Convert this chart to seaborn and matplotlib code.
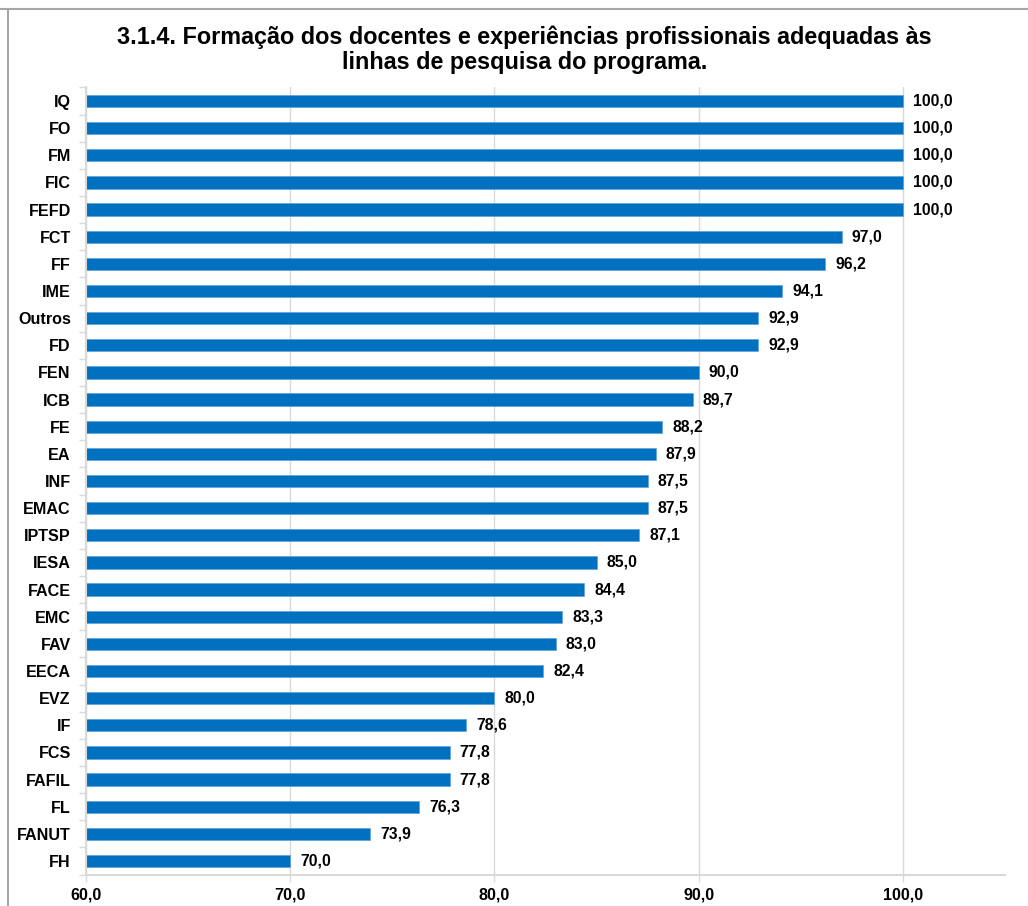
import matplotlib
matplotlib.use("Agg")
import matplotlib.pyplot as plt
from matplotlib.lines import Line2D
from matplotlib.ticker import FixedLocator
import seaborn as sns
import pandas as pd

categories = ["IQ", "FO", "FM", "FIC", "FEFD", "FCT", "FF", "IME", "Outros", "FD",
              "FEN", "ICB", "FE", "EA", "INF", "EMAC", "IPTSP", "IESA", "FACE", "EMC",
              "FAV", "EECA", "EVZ", "IF", "FCS", "FAFIL", "FL", "FANUT", "FH"]
values = [100.0, 100.0, 100.0, 100.0, 100.0, 97.0, 96.2, 94.1, 92.9, 92.9,
          90.0, 89.7, 88.2, 87.9, 87.5, 87.5, 87.1, 85.0, 84.4, 83.3,
          83.0, 82.4, 80.0, 78.6, 77.8, 77.8, 76.3, 73.9, 70.0]
x_ticks = [60, 70, 80, 90, 100]
title = "3.1.4. Formação dos docentes e experiências profissionais adequadas às\nlinhas de pesquisa do programa."

df = pd.DataFrame({"unidade": categories, "valor": values})

sns.set_theme(style="white")
plt.rcParams["font.family"] = ["Liberation Sans", "DejaVu Sans"]

fig = plt.figure(figsize=(10.28, 9.06), dpi=100)
ax = fig.add_axes([0.0837, 0.0347, 0.8939, 0.8688])

sns.barplot(data=df, x="valor", y="unidade", orient="h", color="#0070C0",
            saturation=1, width=0.45, ax=ax, edgecolor="#5B9BD5", linewidth=0.4)

ax.set_xlim(60, 105)
ax.set_ylim(len(categories) - 0.5, -0.5)
ax.set_xticks(x_ticks)
ax.set_xticklabels([f"{t:.1f}".replace(".", ",") for t in x_ticks],
                   fontsize=11.6, fontweight="bold", color="#000000")
ax.set_yticks(range(len(categories)))
ax.set_yticklabels(categories, fontsize=11.6, fontweight="bold", color="#000000")
ax.set_xlabel("")
ax.set_ylabel("")

# vertical gridlines
ax.grid(axis="x", color="#D9D9D9", linewidth=1)
ax.set_axisbelow(True)

# category separators on the left axis
ax.yaxis.set_minor_locator(FixedLocator([i - 0.5 for i in range(len(categories) + 1)]))
ax.tick_params(axis="y", which="major", length=0, pad=11)
ax.tick_params(axis="y", which="minor", length=5, color="#D9D9D9", width=1, left=True)
ax.tick_params(axis="x", which="major", length=5, color="#D9D9D9", width=1, pad=4, bottom=True)

for side in ["top", "right"]:
    ax.spines[side].set_visible(False)
for side in ["left", "bottom"]:
    ax.spines[side].set_color("#D9D9D9")
    ax.spines[side].set_linewidth(1.5)

for i, v in enumerate(values):
    ax.text(v + 0.5, i, f"{v:.1f}".replace(".", ","), va="center", ha="left",
            fontsize=11.3, fontweight="bold", color="#000000")

fig.text(0.51, 0.9455, title, ha="center", va="center", fontsize=16.8,
         fontweight="bold", linespacing=1.1, color="#000000")

# outer frame lines
fig.add_artist(Line2D([0, 1], [1 - 9 / 906, 1 - 9 / 906], transform=fig.transFigure,
                      color="#A6A6A6", linewidth=1.5))
fig.add_artist(Line2D([8 / 1028, 8 / 1028], [0, 1 - 9 / 906], transform=fig.transFigure,
                      color="#A6A6A6", linewidth=1.5))

fig.savefig("out.png", dpi=100, facecolor="white")
